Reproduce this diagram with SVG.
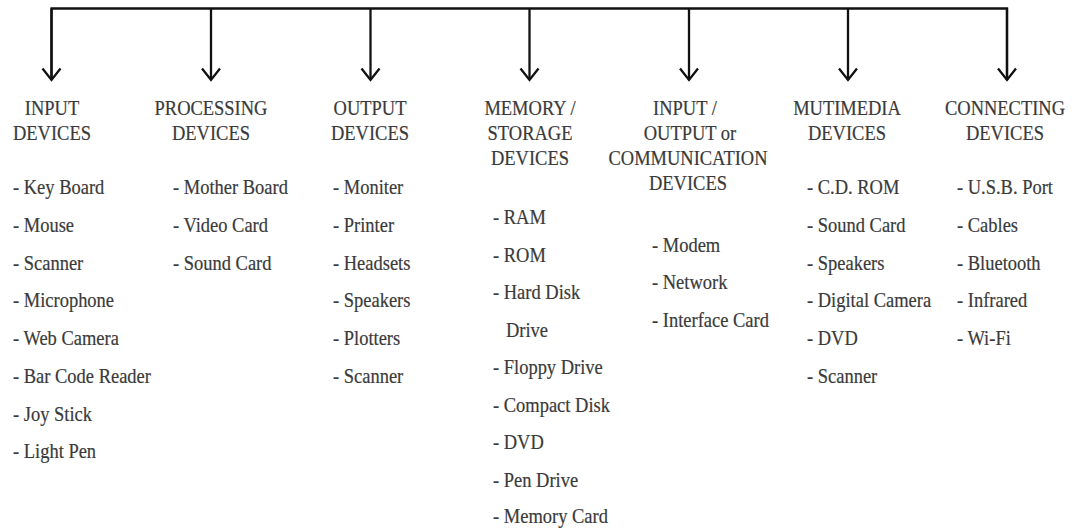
<svg xmlns="http://www.w3.org/2000/svg" width="1072" height="529" viewBox="0 0 1072 529">
<style>
text{font-family:'Liberation Serif','Times New Roman',serif;font-size:21px;fill:#3a3a3a;stroke:#3a3a3a;stroke-width:0.2}
.h{text-anchor:middle}
.c{fill:none;stroke:#111;stroke-width:2.3}
</style>
<defs>
<marker id="ah" markerUnits="userSpaceOnUse" markerWidth="30" markerHeight="30" refX="0" refY="0" orient="auto" overflow="visible" viewBox="-15 -15 30 30">
<path d="M-11.5,-9 L0,0 L-11.5,9" fill="none" stroke="#111" stroke-width="2.3"/>
</marker>
</defs>
<rect width="1072" height="529" fill="#fff"/>
<g id="connectors">
<path class="c" d="M51.5,80 V8.5 H1007 V80"/>
<line class="c" x1="51.5" y1="8.5" x2="51.5" y2="80" marker-end="url(#ah)"/>
<line class="c" x1="211" y1="8.5" x2="211" y2="80" marker-end="url(#ah)"/>
<line class="c" x1="370.5" y1="8.5" x2="370.5" y2="80" marker-end="url(#ah)"/>
<line class="c" x1="529.5" y1="8.5" x2="529.5" y2="80" marker-end="url(#ah)"/>
<line class="c" x1="689" y1="8.5" x2="689" y2="80" marker-end="url(#ah)"/>
<line class="c" x1="848" y1="8.5" x2="848" y2="80" marker-end="url(#ah)"/>
<line class="c" x1="1007" y1="8.5" x2="1007" y2="80" marker-end="url(#ah)"/>
</g>
<g id="input">
<text class="h" transform="translate(52,115) scale(0.88,1)">INPUT</text>
<text class="h" transform="translate(52,140) scale(0.88,1)">DEVICES</text>
<text transform="translate(13,194) scale(0.88,1)">- Key Board</text>
<text transform="translate(13,232) scale(0.88,1)">- Mouse</text>
<text transform="translate(13,270) scale(0.88,1)">- Scanner</text>
<text transform="translate(13,307) scale(0.88,1)">- Microphone</text>
<text transform="translate(13,345) scale(0.88,1)">- Web Camera</text>
<text transform="translate(13,383) scale(0.88,1)">- Bar Code Reader</text>
<text transform="translate(13,421) scale(0.88,1)">- Joy Stick</text>
<text transform="translate(13,458) scale(0.88,1)">- Light Pen</text>
</g>
<g id="processing">
<text class="h" transform="translate(211,115) scale(0.88,1)">PROCESSING</text>
<text class="h" transform="translate(211,140) scale(0.88,1)">DEVICES</text>
<text transform="translate(173,194) scale(0.88,1)">- Mother Board</text>
<text transform="translate(173,232) scale(0.88,1)">- Video Card</text>
<text transform="translate(173,270) scale(0.88,1)">- Sound Card</text>
</g>
<g id="output">
<text class="h" transform="translate(370,115) scale(0.88,1)">OUTPUT</text>
<text class="h" transform="translate(370,140) scale(0.88,1)">DEVICES</text>
<text transform="translate(333,194) scale(0.88,1)">- Moniter</text>
<text transform="translate(333,232) scale(0.88,1)">- Printer</text>
<text transform="translate(333,270) scale(0.88,1)">- Headsets</text>
<text transform="translate(333,307) scale(0.88,1)">- Speakers</text>
<text transform="translate(333,345) scale(0.88,1)">- Plotters</text>
<text transform="translate(333,383) scale(0.88,1)">- Scanner</text>
</g>
<g id="memory">
<text class="h" transform="translate(530,115) scale(0.88,1)">MEMORY /</text>
<text class="h" transform="translate(530,140) scale(0.88,1)">STORAGE</text>
<text class="h" transform="translate(530,165) scale(0.88,1)">DEVICES</text>
<text transform="translate(493,224) scale(0.88,1)">- RAM</text>
<text transform="translate(493,262) scale(0.88,1)">- ROM</text>
<text transform="translate(493,299) scale(0.88,1)">- Hard Disk</text>
<text transform="translate(506,337) scale(0.88,1)">Drive</text>
<text transform="translate(493,374) scale(0.88,1)">- Floppy Drive</text>
<text transform="translate(493,412) scale(0.88,1)">- Compact Disk</text>
<text transform="translate(493,449) scale(0.88,1)">- DVD</text>
<text transform="translate(493,487) scale(0.88,1)">- Pen Drive</text>
<text transform="translate(493,523) scale(0.88,1)">- Memory Card</text>
</g>
<g id="communication">
<text class="h" transform="translate(685,115) scale(0.88,1)">INPUT /</text>
<text class="h" transform="translate(690,140) scale(0.88,1)">OUTPUT or</text>
<text class="h" transform="translate(688,165) scale(0.88,1)">COMMUNICATION</text>
<text class="h" transform="translate(688,190) scale(0.88,1)">DEVICES</text>
<text transform="translate(652,252) scale(0.88,1)">- Modem</text>
<text transform="translate(652,289) scale(0.88,1)">- Network</text>
<text transform="translate(652,327) scale(0.88,1)">- Interface Card</text>
</g>
<g id="multimedia">
<text class="h" transform="translate(847,115) scale(0.88,1)">MUTIMEDIA</text>
<text class="h" transform="translate(847,140) scale(0.88,1)">DEVICES</text>
<text transform="translate(807,194) scale(0.88,1)">- C.D. ROM</text>
<text transform="translate(807,232) scale(0.88,1)">- Sound Card</text>
<text transform="translate(807,270) scale(0.88,1)">- Speakers</text>
<text transform="translate(807,307) scale(0.88,1)">- Digital Camera</text>
<text transform="translate(807,345) scale(0.88,1)">- DVD</text>
<text transform="translate(807,383) scale(0.88,1)">- Scanner</text>
</g>
<g id="connecting">
<text class="h" transform="translate(1005,115) scale(0.88,1)">CONNECTING</text>
<text class="h" transform="translate(1005,140) scale(0.88,1)">DEVICES</text>
<text transform="translate(957,194) scale(0.88,1)">- U.S.B. Port</text>
<text transform="translate(957,232) scale(0.88,1)">- Cables</text>
<text transform="translate(957,270) scale(0.88,1)">- Bluetooth</text>
<text transform="translate(957,307) scale(0.88,1)">- Infrared</text>
<text transform="translate(957,345) scale(0.88,1)">- Wi-Fi</text>
</g>
</svg>
